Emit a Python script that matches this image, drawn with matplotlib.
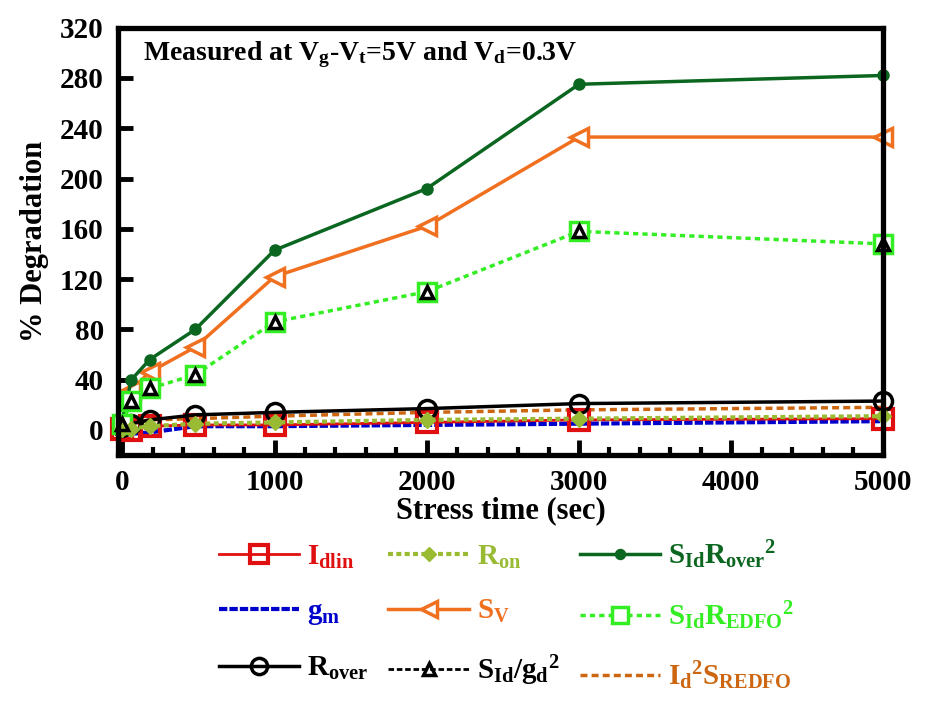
import matplotlib.pyplot as plt
from matplotlib.lines import Line2D
import numpy as np

plt.rcParams['font.family'] = 'Liberation Serif'
plt.rcParams['font.weight'] = 'bold'
plt.rcParams['mathtext.fontset'] = 'custom'
plt.rcParams['mathtext.rm'] = 'Liberation Serif:bold'
plt.rcParams['mathtext.it'] = 'Liberation Serif:bold'
plt.rcParams['mathtext.bf'] = 'Liberation Serif:bold'

# stress time (sec)
t = [0, 60, 180, 480, 1000, 2000, 3000, 5000]
t_sv = [60, 180, 480, 1000, 2000, 3000, 5000]

# % degradation of each parameter
idlin = [1, 0, 3, 4, 4, 6, 8, 9]
gm = [-4, -3, -2, 3, 3, 4, 5, 7]
rover = [2, 5, 8, 12, 14, 17, 21, 23]
ron = [1, 1, 3, 5, 6, 8, 9, 11]
sv = [32, 46, 66, 122, 162, 233, 233]
sid_gd2 = [5, 23, 33, 44, 86, 110, 158, 148]
sid_rover2 = [8, 40, 56, 80, 143, 192, 275, 282]
sid_redfo2 = [5, 23, 33, 44, 86, 110, 158, 148]
id2_sredfo = [2, 5, 8, 9, 11, 14, 16, 18]

c_red = '#E01010'
c_blue = '#0000CC'
c_olive = '#99BB33'
c_orange = '#F07020'
c_dgreen = '#0B6620'
c_lgreen = '#33EE22'
c_brown = '#CC6611'

fig = plt.figure(figsize=(9.27, 7.10), dpi=100)
ax = fig.add_axes([0.127, 0.359, 0.826, 0.602])

h1, = ax.plot(t, idlin, '-', color=c_red, lw=2, marker='s', ms=14, mfc='none', mec=c_red, mew=3,
              label=r'$I_{dlin}$', zorder=3, clip_on=False)
h2, = ax.plot(t, gm, color=c_blue, lw=3, ls=(0, (2, 0.5)), label=r'$g_m$', zorder=2)
h3, = ax.plot(t, rover, '-', color='black', lw=2.5, marker='o', ms=13, mfc='none', mec='black', mew=2.5,
              label=r'$R_{over}$', zorder=3, clip_on=False)
h4, = ax.plot(t, ron, color=c_olive, lw=3, ls=(0, (1.2, 0.8)), marker='D', ms=8, mfc=c_olive, mec=c_olive,
              label=r'$R_{on}$', zorder=4, clip_on=False)
h5, = ax.plot(t_sv, sv, '-', color=c_orange, lw=2.5, marker='<', ms=13, mfc='white', mec=c_orange, mew=2.5,
              label=r'$S_V$', zorder=3, clip_on=False)
h7, = ax.plot(t, sid_rover2, '-', color=c_dgreen, lw=2.5, marker='o', ms=8, mfc=c_dgreen, mec=c_dgreen,
              label=r'$S_{Id}R_{over}{}^2$', zorder=3, clip_on=False)
h8, = ax.plot(t, sid_redfo2, color=c_lgreen, lw=2.5, ls=(0, (1.5, 1.2)), marker='s', ms=13, mfc='white',
              mec=c_lgreen, mew=2.5, label=r'$S_{Id}R_{EDFO}{}^2$', zorder=3, clip_on=False)
# S_Id/g_d^2 sits on the same points, triangles drawn over the squares
ax.plot(t, sid_gd2, ls='none', marker='^', ms=9, mfc='none', mec='black', mew=2.5, zorder=5, clip_on=False)
h6 = Line2D([], [], color='black', lw=2, ls=(0, (2, 1)), marker='^', ms=9, mfc='none', mec='black', mew=2.5,
            label=r'$S_{Id}/g_d{}^2$')
h9, = ax.plot(t, id2_sredfo, color=c_brown, lw=2.5, ls=(0, (2, 1.2)), label=r'$I_d{}^2S_{REDFO}$', zorder=2)

ax.set_xlim(-30, 5000)
ax.set_ylim(-20, 320)
ax.set_xticks(np.arange(0, 5001, 1000))
ax.set_xticks(np.arange(0, 5001, 200), minor=True)
ax.set_yticks(np.arange(0, 321, 40))
ax.tick_params(axis='both', which='major', direction='in', length=11, width=3.5, labelsize=21, pad=10)
ax.tick_params(axis='x', which='minor', direction='in', length=6, width=3)
for s in ax.spines.values():
    s.set_linewidth(3.8)
    s.set_zorder(4)

ax.set_xlabel('Stress time (sec)', fontsize=22, fontweight='bold', labelpad=0)
ax.set_ylabel('% Degradation', fontsize=22, fontweight='bold', labelpad=8)
ax.text(0.033, 0.925, r'Measured at $V_g$-$V_t$=5V and $V_d$=0.3V', transform=ax.transAxes,
        fontsize=20, fontweight='bold', va='baseline', ha='left')

handles = [h1, h2, h3, h4, h5, h6, h7, h8, h9]
leg = ax.legend(handles=handles, ncol=3, loc='upper left', bbox_to_anchor=(0.220, 0.262),
                bbox_transform=fig.transFigure, frameon=False, fontsize=21,
                handlelength=2.75, handletextpad=0.28, columnspacing=0.7,
                labelspacing=0.95, borderpad=0, markerscale=0.9)
colors = [c_red, c_blue, 'black', c_olive, c_orange, 'black', c_dgreen, c_lgreen, c_brown]
for txt, c in zip(leg.get_texts(), colors):
    txt.set_color(c)

plt.savefig('out.png', dpi=100)
